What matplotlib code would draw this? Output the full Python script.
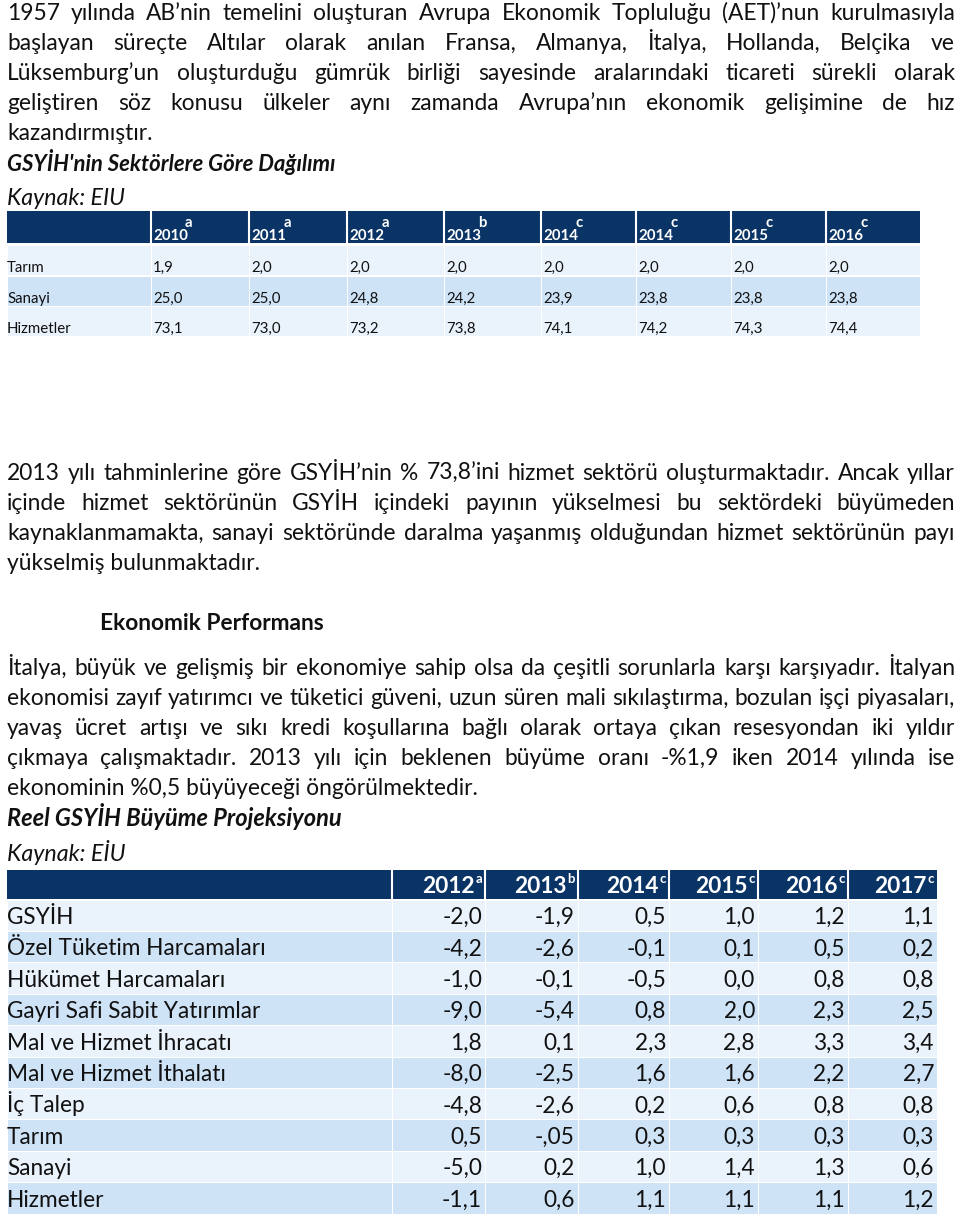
import matplotlib.pyplot as plt
from matplotlib.patches import Rectangle

plt.rcParams['font.family'] = ['Lato', 'DejaVu Sans']

# --- text content ---
para1 = [
    "1957 yılında AB’nin temelini oluşturan Avrupa Ekonomik Topluluğu (AET)’nun kurulmasıyla",
    "başlayan süreçte Altılar olarak anılan Fransa, Almanya, İtalya, Hollanda, Belçika ve",
    "Lüksemburg’un oluşturduğu gümrük birliği sayesinde aralarındaki ticareti sürekli olarak",
    "geliştiren söz konusu ülkeler aynı zamanda Avrupa’nın ekonomik gelişimine de hız",
    "kazandırmıştır.",
]
title1 = "GSYİH'nin Sektörlere Göre Dağılımı"
source1 = "Kaynak: EIU"

para2 = [
    "2013 yılı tahminlerine göre GSYİH’nin % 73,8’ini hizmet sektörü oluşturmaktadır. Ancak yıllar",
    "içinde hizmet sektörünün GSYİH içindeki payının yükselmesi bu sektördeki büyümeden",
    "kaynaklanmamakta, sanayi sektöründe daralma yaşanmış olduğundan hizmet sektörünün payı",
    "yükselmiş bulunmaktadır.",
]
heading = "Ekonomik Performans"
para3 = [
    "İtalya, büyük ve gelişmiş bir ekonomiye sahip olsa da çeşitli sorunlarla karşı karşıyadır. İtalyan",
    "ekonomisi zayıf yatırımcı ve tüketici güveni, uzun süren mali sıkılaştırma, bozulan işçi piyasaları,",
    "yavaş ücret artışı ve sıkı kredi koşullarına bağlı olarak ortaya çıkan resesyondan iki yıldır",
    "çıkmaya çalışmaktadır. 2013 yılı için beklenen büyüme oranı -%1,9 iken 2014 yılında ise",
    "ekonominin %0,5 büyüyeceği öngörülmektedir.",
]
title2 = "Reel GSYİH Büyüme Projeksiyonu"
source2 = "Kaynak: EİU"

# --- table 1: GDP by sector ---
t1_years = ["2010", "2011", "2012", "2013", "2014", "2014", "2015", "2016"]
t1_notes = ["a", "a", "a", "b", "c", "c", "c", "c"]
t1_rows = ["Tarım", "Sanayi", "Hizmetler"]
t1_vals = [
    ["1,9", "2,0", "2,0", "2,0", "2,0", "2,0", "2,0", "2,0"],
    ["25,0", "25,0", "24,8", "24,2", "23,9", "23,8", "23,8", "23,8"],
    ["73,1", "73,0", "73,2", "73,8", "74,1", "74,2", "74,3", "74,4"],
]

# --- table 2: real GDP growth projection ---
t2_years = ["2012", "2013", "2014", "2015", "2016", "2017"]
t2_notes = ["a", "b", "c", "c", "c", "c"]
t2_rows = ["GSYİH", "Özel Tüketim Harcamaları", "Hükümet Harcamaları",
           "Gayri Safi Sabit Yatırımlar", "Mal ve Hizmet İhracatı",
           "Mal ve Hizmet İthalatı", "İç Talep", "Tarım", "Sanayi", "Hizmetler"]
t2_vals = [
    ["-2,0", "-1,9", "0,5", "1,0", "1,2", "1,1"],
    ["-4,2", "-2,6", "-0,1", "0,1", "0,5", "0,2"],
    ["-1,0", "-0,1", "-0,5", "0,0", "0,8", "0,8"],
    ["-9,0", "-5,4", "0,8", "2,0", "2,3", "2,5"],
    ["1,8", "0,1", "2,3", "2,8", "3,3", "3,4"],
    ["-8,0", "-2,5", "1,6", "1,6", "2,2", "2,7"],
    ["-4,8", "-2,6", "0,2", "0,6", "0,8", "0,8"],
    ["0,5", "-,05", "0,3", "0,3", "0,3", "0,3"],
    ["-5,0", "0,2", "1,0", "1,4", "1,3", "0,6"],
    ["-1,1", "0,6", "1,1", "1,1", "1,1", "1,2"],
]

NAVY = "#0b3466"
LIGHT = "#eaf3fc"
DARK = "#cfe3f7"
TXT = "#111111"
BODY = 16.4
T2 = 16.3
T1 = 10.8

fig = plt.figure(figsize=(9.6, 12.2), dpi=100)
ax = fig.add_axes([0, 0, 1, 1])
ax.set_xlim(0, 960)
ax.set_ylim(1220, 0)
ax.axis('off')
renderer = fig.canvas.get_renderer()


def width_of(artist):
    return artist.get_window_extent(renderer).width


def fitted(x, y, s, target, **kw):
    # single line whose size is chosen so it spans the same width as in the page
    t = ax.text(x, y, s, fontsize=10, color=TXT, va='baseline', **kw)
    t.set_fontsize(10 * target / width_of(t))
    return t


def paragraph(lines, y0, step=30, x0=7, x1=955):
    for i, line in enumerate(lines):
        y = y0 + i * step
        if i == len(lines) - 1:
            ax.text(x0, y, line, fontsize=BODY, color=TXT, va='baseline')
            continue
        words = line.split(' ')
        arts = [ax.text(x0, y, w, fontsize=BODY, color=TXT, va='baseline') for w in words]
        widths = [width_of(a) for a in arts]
        gap = (x1 - x0 - sum(widths)) / (len(words) - 1)
        x = x0
        for a, w in zip(arts, widths):
            a.set_x(x)
            x += w + gap


paragraph(para1, 20)
fitted(7, 171, title1, 328, fontweight='bold', style='italic')
fitted(7, 205, source1, 118, style='italic')

# table 1
t1_edges = [7, 151, 249, 347, 444, 541, 636, 731, 826, 920]
ax.add_patch(Rectangle((t1_edges[0], 211), t1_edges[-1] - t1_edges[0], 32, color=NAVY, lw=0))
for j in range(1, len(t1_edges) - 1):
    ax.plot([t1_edges[j], t1_edges[j]], [211, 243], color='white', lw=1.5)
for j, (yr, nt) in enumerate(zip(t1_years, t1_notes)):
    xl = t1_edges[j + 1] + 2
    t = ax.text(xl, 240, yr, fontsize=T1, fontweight='bold', color='white', va='baseline')
    ax.text(xl + width_of(t) + 1, 227, nt, fontsize=T1, fontweight='bold', color='white',
            va='baseline', ha='center')
for i, (name, vals) in enumerate(zip(t1_rows, t1_vals)):
    top = 246 + i * 30.5
    fc = DARK if i % 2 else LIGHT
    for j in range(len(t1_edges) - 1):
        ax.add_patch(Rectangle((t1_edges[j] + 1, top), t1_edges[j + 1] - t1_edges[j] - 1, 29,
                               color=fc, lw=0))
    base = top + 26
    ax.text(7, base, name, fontsize=T1, color=TXT, va='baseline')
    for j, v in enumerate(vals):
        ax.text(t1_edges[j + 1] + 2, base, v, fontsize=T1, color=TXT, va='baseline')

paragraph(para2, 480)
fitted(100, 630, heading, 225, fontweight='bold')
paragraph(para3, 675)
fitted(7, 826, title2, 335, fontweight='bold', style='italic')
fitted(7, 861, source2, 119, style='italic')

# table 2
t2_edges = [7, 392, 485, 578, 669, 758, 848, 937]
ax.add_patch(Rectangle((t2_edges[0], 870), t2_edges[-1] - t2_edges[0], 29, color=NAVY, lw=0))
for j in range(1, len(t2_edges) - 1):
    ax.plot([t2_edges[j], t2_edges[j]], [870, 899], color='white', lw=1.5)
for j, (yr, nt) in enumerate(zip(t2_years, t2_notes)):
    xr = t2_edges[j + 2] - 3
    n = ax.text(xr, 883, nt, fontsize=9.5, fontweight='bold', color='white', va='baseline', ha='right')
    ax.text(xr - width_of(n) - 1, 893, yr, fontsize=T2, fontweight='bold', color='white',
            va='baseline', ha='right')
row_h = 31.4
for i, (name, vals) in enumerate(zip(t2_rows, t2_vals)):
    top = 900.5 + i * row_h
    fc = DARK if i % 2 else LIGHT
    for j in range(len(t2_edges) - 1):
        ax.add_patch(Rectangle((t2_edges[j] + 1, top), t2_edges[j + 1] - t2_edges[j] - 1, row_h - 1,
                               color=fc, lw=0))
    base = top + 23.5
    ax.text(7, base, name, fontsize=T2, color=TXT, va='baseline')
    for j, v in enumerate(vals):
        ax.text(t2_edges[j + 2] - 3, base, v, fontsize=T2, color=TXT, va='baseline', ha='right')

fig.savefig("out.png", dpi=100)
